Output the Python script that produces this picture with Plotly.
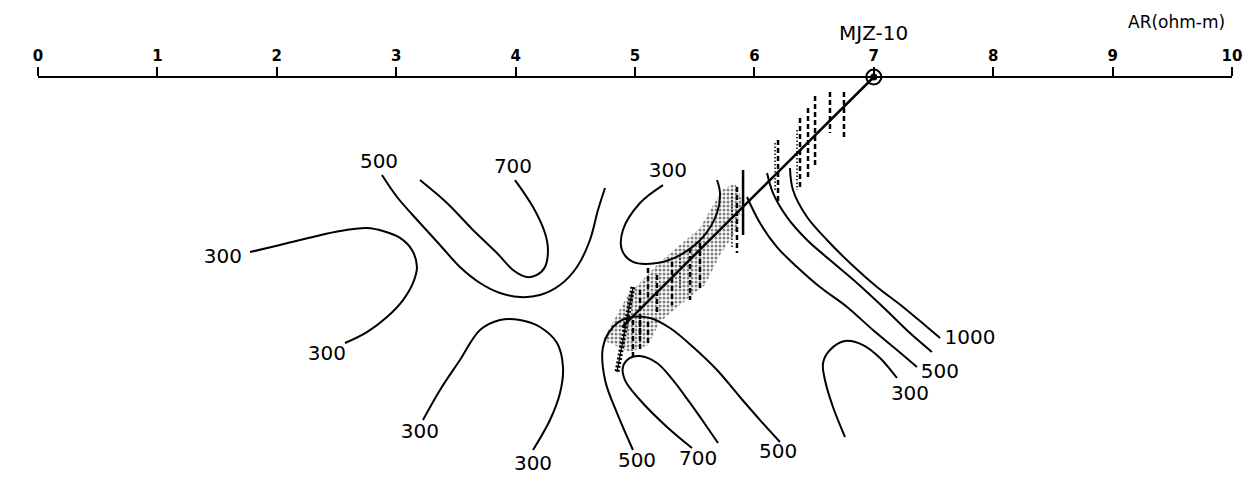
import plotly.graph_objects as go

# ---------------- data (distance along section, depth; same units as the top scale) ----------------
scale_ticks = [0, 1, 2, 3, 4, 5, 6, 7, 8, 9, 10]
scale_labels = ["0", "1", "2", "3", "4", "5", "6", "7", "8", "9", "10"]

well_name = "MJZ-10"
well_x = [7.0, 4.891]
well_y = [0.0, 2.094]
ladder_x = [4.983, 4.849]
ladder_y = [1.759, 2.471]

# resistivity contours (AR, ohm-m)
c300_west_x = [1.776, 2.027, 2.303, 2.529, 2.755, 2.889, 3.032, 3.132, 3.174, 3.141, 3.057, 2.923, 2.755, 2.571]
c300_west_y = [1.466, 1.407, 1.340, 1.290, 1.265, 1.290, 1.348, 1.449, 1.591, 1.725, 1.868, 2.010, 2.136, 2.228]

c500_upper_x = [2.881, 3.007, 3.199, 3.367, 3.534, 3.702, 3.869, 4.037, 4.204, 4.372, 4.514, 4.623, 4.690, 4.749]
c500_upper_y = [0.821, 1.005, 1.223, 1.407, 1.591, 1.725, 1.809, 1.843, 1.826, 1.742, 1.591, 1.365, 1.114, 0.930]

c700_upper_x = [3.199, 3.425, 3.643, 3.844, 3.978, 4.095, 4.179, 4.246, 4.271, 4.246, 4.146, 3.995]
c700_upper_y = [0.863, 1.055, 1.281, 1.474, 1.616, 1.675, 1.658, 1.591, 1.449, 1.307, 1.089, 0.863]

c300_south_x = [3.224, 3.367, 3.534, 3.702, 3.869, 4.037, 4.204, 4.347, 4.397, 4.372, 4.288, 4.146]
c300_south_y = [2.873, 2.621, 2.370, 2.119, 2.035, 2.035, 2.094, 2.228, 2.429, 2.647, 2.873, 3.124]

c300_mid_x = [5.235, 5.042, 4.899, 4.891, 4.983, 5.184, 5.377, 5.570, 5.687, 5.712, 5.687]
c300_mid_y = [0.905, 1.055, 1.281, 1.449, 1.549, 1.558, 1.491, 1.340, 1.139, 0.972, 0.863]

c500_lower_x = [4.983, 4.849, 4.749, 4.732, 4.816, 4.933, 5.126, 5.293, 5.486, 5.687, 5.879, 6.047, 6.214]
c500_lower_y = [3.124, 2.814, 2.538, 2.261, 2.094, 2.018, 2.018, 2.102, 2.261, 2.454, 2.680, 2.873, 3.057]

c700_lower_x = [5.477, 5.268, 5.042, 4.916, 4.899, 4.958, 5.042, 5.184, 5.318, 5.461, 5.603, 5.695]
c700_lower_y = [3.107, 2.931, 2.705, 2.538, 2.429, 2.353, 2.337, 2.395, 2.538, 2.730, 2.931, 3.065]

c300_east_x = [6.759, 6.658, 6.591, 6.575, 6.633, 6.759, 6.910, 7.052, 7.194]
c300_east_y = [3.015, 2.764, 2.538, 2.395, 2.286, 2.211, 2.245, 2.353, 2.521]

c500_east_x = [5.938, 6.047, 6.189, 6.357, 6.549, 6.776, 6.993, 7.194, 7.362]
c500_east_y = [1.005, 1.223, 1.424, 1.591, 1.759, 1.926, 2.119, 2.286, 2.429]

c700_east_x = [6.106, 6.156, 6.273, 6.441, 6.633, 6.859, 7.077, 7.303, 7.487]
c700_east_y = [0.804, 0.972, 1.173, 1.365, 1.533, 1.725, 1.926, 2.144, 2.303]

c1000_east_x = [6.298, 6.323, 6.441, 6.608, 6.801, 7.027, 7.245, 7.446, 7.555]
c1000_east_y = [0.762, 0.946, 1.173, 1.365, 1.558, 1.759, 1.926, 2.094, 2.186]

contour_label_text = ["500", "700", "300", "300", "300", "300", "300", "500", "700", "500", "300", "500", "1000"]
contour_label_x = [2.856, 3.978, 5.276, 1.549, 2.420, 3.199, 4.146, 5.017, 5.528, 6.198, 7.303, 7.554, 7.806]
contour_label_y = [0.720, 0.762, 0.796, 1.516, 2.328, 2.982, 3.250, 3.224, 3.208, 3.149, 2.663, 2.479, 2.194]

# fracture / feed zones along the well (x, top, bottom)
dashed_zone_x = [6.750, 6.633, 6.508, 6.449, 6.382, 6.198, 5.854, 5.544, 5.461, 5.310, 5.184, 5.109, 5.042, 4.983, 5.042, 5.109]
dashed_zone_top = [0.126, 0.126, 0.159, 0.260, 0.343, 0.528, 0.921, 1.390, 1.432, 1.549, 1.658, 1.600, 1.784, 2.035, 2.035, 2.052]
dashed_zone_bot = [0.503, 0.469, 0.762, 0.863, 0.946, 1.055, 1.474, 1.784, 1.868, 1.910, 1.993, 1.868, 2.161, 2.370, 2.286, 2.245]
dotted_zone_x = [6.357, 6.173, 5.812, 5.377]
dotted_zone_top = [0.444, 0.553, 0.972, 1.491]
dotted_zone_bot = [0.946, 0.963, 1.424, 1.784]
solid_zone_x = [5.905]
solid_zone_top = [0.779]
solid_zone_bot = [1.323]

# stippled altered zone around the well
stipple_x = [4.732, 4.833, 4.941, 5.209, 5.544, 5.729, 5.838, 5.896, 5.854, 5.712, 5.586, 5.377, 5.209, 5.109, 4.958]
stipple_y = [2.203, 2.018, 1.826, 1.549, 1.265, 0.946, 0.888, 1.030, 1.281, 1.491, 1.742, 1.910, 2.052, 2.245, 2.303]

unit_label = "AR(ohm-m)"

# ---------------- figure ----------------
fig = go.Figure()

fig.add_trace(go.Scatter(
    x=stipple_x, y=stipple_y, mode="lines", fill="toself",
    line=dict(width=0), fillcolor="white",
    fillpattern=dict(shape=".", size=4, solidity=0.45, fgcolor="black", bgcolor="white"),
    hoverinfo="skip"))


def seg_arrays(xs, tops, bots):
    sx, sy = [], []
    for x, t, b in zip(xs, tops, bots):
        sx += [x, x, None]
        sy += [t, b, None]
    return sx, sy


for xs, ts, bs, dash, w in [
    (dashed_zone_x, dashed_zone_top, dashed_zone_bot, "5px,3px", 2.5),
    (dotted_zone_x, dotted_zone_top, dotted_zone_bot, "1.5px,2px", 1.5),
    (solid_zone_x, solid_zone_top, solid_zone_bot, "solid", 2.5),
]:
    sx, sy = seg_arrays(xs, ts, bs)
    fig.add_trace(go.Scatter(x=sx, y=sy, mode="lines",
                             line=dict(color="black", width=w, dash=dash), hoverinfo="skip"))

contours = [
    (c300_west_x, c300_west_y), (c500_upper_x, c500_upper_y), (c700_upper_x, c700_upper_y),
    (c300_south_x, c300_south_y), (c300_mid_x, c300_mid_y), (c500_lower_x, c500_lower_y),
    (c700_lower_x, c700_lower_y), (c300_east_x, c300_east_y), (c500_east_x, c500_east_y),
    (c700_east_x, c700_east_y), (c1000_east_x, c1000_east_y),
]
for cx, cy in contours:
    fig.add_trace(go.Scatter(x=cx, y=cy, mode="lines",
                             line=dict(color="black", width=2, shape="spline", smoothing=1.0),
                             hoverinfo="skip"))

fig.add_trace(go.Scatter(
    x=contour_label_x, y=contour_label_y, mode="text", text=contour_label_text,
    textfont=dict(family="DejaVu Sans", size=20, color="black"), hoverinfo="skip"))

# well track
fig.add_trace(go.Scatter(x=well_x, y=well_y, mode="lines",
                         line=dict(color="black", width=2.5), hoverinfo="skip"))
fig.add_trace(go.Scatter(x=ladder_x, y=ladder_y, mode="lines",
                         line=dict(color="black", width=5, dash="2px,2px"), hoverinfo="skip"))
fig.add_trace(go.Scatter(x=ladder_x, y=ladder_y, mode="lines",
                         line=dict(color="black", width=1.2), hoverinfo="skip"))
fig.add_trace(go.Scatter(x=[well_x[0]], y=[well_y[0]], mode="markers",
                         marker=dict(symbol="circle-open", size=15, color="black",
                                     line=dict(width=2, color="black")), hoverinfo="skip"))
fig.add_trace(go.Scatter(x=[well_x[0]], y=[well_y[0]], mode="markers",
                         marker=dict(symbol="circle", size=7, color="black"), hoverinfo="skip"))

fig.add_annotation(x=well_x[0], y=-0.368, xref="x", yref="y", text=well_name, showarrow=False,
                   font=dict(family="DejaVu Sans", size=20, color="black"))
fig.add_annotation(x=9.539, y=-0.461, xref="x", yref="y", text=unit_label, showarrow=False,
                   font=dict(family="DejaVu Sans", size=17, color="black"))

W, H = 1258, 495
x0_px, x10_px, axis_px = 38, 1232, 77
ppu = (x10_px - x0_px) / 10.0

fig.update_layout(
    width=W, height=H, margin=dict(l=0, r=0, t=0, b=0),
    paper_bgcolor="white", plot_bgcolor="white", showlegend=False,
    xaxis=dict(domain=[x0_px / W, x10_px / W], range=[0, 10], anchor="free",
               position=1 - axis_px / H, side="top",
               showline=True, linecolor="black", linewidth=2,
               ticks="outside", ticklen=9, tickwidth=2, tickcolor="black",
               tickvals=scale_ticks, ticktext=scale_labels,
               tickfont=dict(family="DejaVu Sans", size=15, color="black", weight="bold"),
               showgrid=False, zeroline=False, automargin=False),
    yaxis=dict(range=[(H - axis_px) / ppu, -axis_px / ppu], visible=False,
               showgrid=False, zeroline=False, automargin=False),
)

fig.write_html("out.html", config={"displayModeBar": False},
               post_script="document.body.style.margin='0';document.body.style.overflow='hidden';")
